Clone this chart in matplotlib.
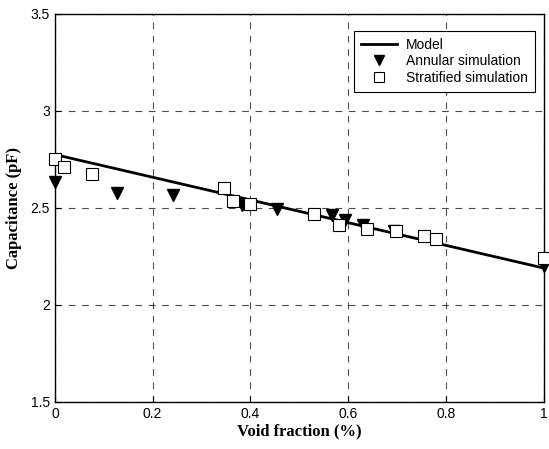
import matplotlib
matplotlib.use("Agg")
import matplotlib.pyplot as plt

# model line end points
model_x = [0.0, 1.0]
model_y = [2.775, 2.19]

# annular simulation (triangles)
annular_x = [0.0, 0.128, 0.242, 0.382, 0.455, 0.567, 0.593, 0.630, 0.695, 1.0]
annular_y = [2.634, 2.577, 2.567, 2.515, 2.495, 2.464, 2.438, 2.412, 2.381, 2.20]

# stratified simulation (squares)
strat_x = [0.0, 0.018, 0.075, 0.347, 0.364, 0.40, 0.530, 0.581, 0.638, 0.699, 0.756, 0.78, 1.0]
strat_y = [2.753, 2.711, 2.675, 2.603, 2.536, 2.52, 2.469, 2.412, 2.392, 2.381, 2.356, 2.34, 2.242]

xticks = [0, 0.2, 0.4, 0.6, 0.8, 1]
yticks = [1.5, 2, 2.5, 3, 3.5]

fig = plt.figure(figsize=(5.49, 4.49), dpi=100)
ax = fig.add_axes([0.1, 0.105, 0.89, 0.864])

ax.plot(model_x, model_y, color="black", lw=2, label="Model", zorder=3)
ax.plot(annular_x, annular_y, "v", color="black", ms=8, label="Annular simulation",
        zorder=4, clip_on=False)
ax.plot(strat_x, strat_y, "s", mfc="white", mec="black", mew=0.8, ms=8,
        label="Stratified simulation", zorder=5, clip_on=False)

ax.set_xlim(0, 1)
ax.set_ylim(1.5, 3.5)
ax.set_xticks(xticks)
ax.set_xticklabels(["0", "0.2", "0.4", "0.6", "0.8", "1"])
ax.set_yticks(yticks)
ax.set_yticklabels(["1.5", "2", "2.5", "3", "3.5"])
ax.tick_params(direction="in", labelsize=10, length=4)
for lab in ax.get_xticklabels() + ax.get_yticklabels():
    lab.set_family("Liberation Sans")

ax.grid(True, color="black", linestyle=(0, (6, 6)), lw=0.8, alpha=0.7)
for s in ax.spines.values():
    s.set_linewidth(1.0)

ax.set_xlabel("Void fraction (%)", family="Liberation Serif", weight="bold", fontsize=12, labelpad=2)
ax.set_ylabel("Capacitance (pF)", family="Liberation Serif", weight="bold", fontsize=12, labelpad=6)

leg = ax.legend(loc="upper right", bbox_to_anchor=(0.996, 0.975), fancybox=False,
                edgecolor="black", framealpha=1, prop={"family": "Liberation Sans", "size": 10},
                handlelength=2.6, borderpad=0.5, labelspacing=0.2, markerscale=0.85,
                handletextpad=0.6)
leg.get_frame().set_linewidth(0.8)

fig.savefig("out.png", dpi=100)
